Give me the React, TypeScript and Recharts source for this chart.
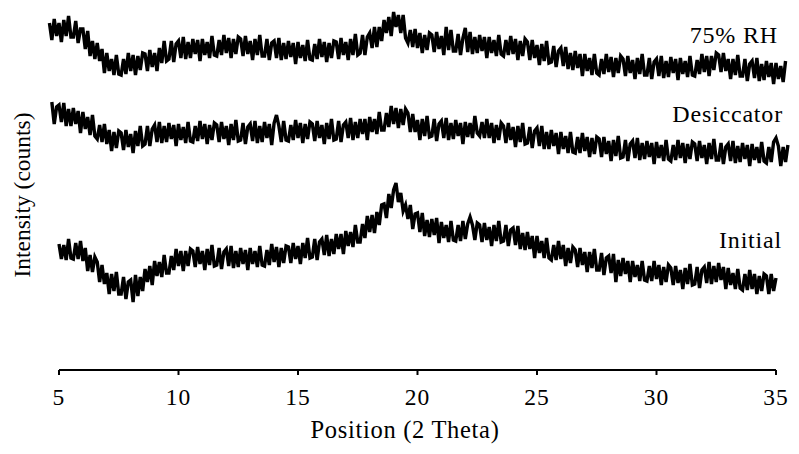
import { LineChart, Line, XAxis, YAxis, ReferenceLine, ReferenceDot } from "recharts"

// scan grid (2 Theta), one point every 0.1 degree from 4.6
const THETA_START = 4.6
const THETA_STEP = 0.1

// intensity, 10 points per row (one degree)
const rh75: (number | null)[] = [
  347, 330, 351, 334, 347, 328, 350, 334, 354, 333,
  333, 349, 327, 341, 341, 321, 339, 314, 329, 311,
  327, 309, 321, 297, 317, 299, 311, 295, 315, 296,
  295, 311, 296, 317, 299, 315, 295, 314, 300, 317,
  316, 299, 320, 303, 317, 299, 322, 307, 329, 309,
  311, 329, 308, 326, 329, 312, 333, 311, 328, 312,
  331, 316, 330, 309, 331, 315, 328, 312, 334, 315,
  314, 330, 315, 335, 317, 332, 312, 331, 316, 333,
  331, 314, 334, 316, 329, 310, 331, 315, 335, 314,
  314, 331, 310, 327, 329, 312, 332, 310, 327, 311,
  329, 313, 327, 306, 328, 312, 325, 309, 330, 311,
  310, 326, 311, 331, 313, 328, 308, 327, 312, 329,
  328, 311, 332, 315, 328, 310, 331, 315, 336, 315,
  317, 335, 315, 333, 337, 322, 343, 323, 343, 329,
  350, 337, 353, 334, 358, 343, 355, 337, 355, 332,
  327, 340, 323, 341, 322, 337, 317, 335, 320, 337,
  335, 318, 338, 321, 334, 315, 343, 320, 340, 319,
  319, 336, 315, 332, 342, 318, 338, 316, 333, 317,
  335, 319, 333, 312, 333, 317, 330, 314, 335, 316,
  314, 330, 315, 334, 316, 331, 310, 329, 314, 331,
  328, 310, 330, 312, 325, 305, 326, 309, 329, 307,
  308, 324, 303, 319, 322, 304, 323, 301, 317, 300,
  319, 302, 316, 294, 316, 299, 312, 295, 316, 297,
  295, 311, 296, 316, 298, 313, 293, 312, 297, 314,
  311, 294, 314, 297, 310, 291, 312, 296, 316, 295,
  295, 312, 291, 308, 311, 294, 314, 292, 309, 293,
  313, 297, 311, 290, 312, 296, 309, 293, 314, 295,
  294, 310, 296, 316, 298, 314, 294, 314, 300, 317,
  315, 298, 317, 299, 311, 291, 311, 295, 315, 294,
  294, 311, 289, 306, 309, 292, 312, 289, 306, 290,
  309, 293, 307, 286, 307, 291, 304, 288, 309, null,
]

const desiccator: (number | null)[] = [
  null, 268, 246, 263, 265, 248, 267, 244, 261, 244,
  262, 246, 259, 237, 258, 241, 253, 235, 255, 234,
  231, 245, 228, 246, 226, 240, 219, 238, 222, 239,
  237, 220, 240, 223, 236, 217, 239, 224, 244, 224,
  226, 244, 224, 241, 245, 228, 248, 227, 244, 228,
  247, 231, 245, 224, 246, 230, 243, 227, 248, 229,
  228, 244, 229, 249, 231, 246, 226, 245, 230, 247,
  245, 228, 248, 231, 244, 225, 246, 230, 250, 229,
  230, 247, 226, 243, 246, 229, 249, 227, 244, 228,
  248, 232, 246, 225, 247, 255, 244, 228, 249, 230,
  229, 245, 230, 250, 232, 247, 227, 246, 231, 248,
  246, 229, 249, 232, 245, 226, 247, 231, 251, 230,
  231, 249, 228, 245, 248, 232, 252, 230, 248, 232,
  251, 236, 251, 230, 253, 238, 251, 236, 258, 240,
  240, 257, 243, 264, 246, 262, 242, 261, 245, 261,
  257, 238, 256, 238, 250, 230, 251, 234, 254, 233,
  234, 251, 229, 246, 249, 232, 252, 230, 247, 231,
  250, 234, 247, 226, 248, 233, 247, 232, 254, 237,
  234, 248, 232, 251, 232, 247, 227, 245, 230, 247,
  244, 227, 247, 230, 243, 223, 244, 228, 247, 226,
  227, 243, 222, 239, 242, 224, 244, 221, 238, 221,
  240, 224, 237, 216, 238, 221, 234, 217, 238, 218,
  217, 233, 217, 237, 219, 233, 213, 232, 216, 233,
  231, 213, 233, 216, 229, 209, 230, 214, 234, 212,
  213, 230, 209, 226, 229, 212, 232, 210, 227, 211,
  229, 213, 227, 206, 228, 212, 225, 209, 230, 211,
  209, 225, 210, 230, 212, 227, 207, 226, 211, 228,
  226, 209, 229, 212, 225, 206, 227, 211, 231, 210,
  210, 227, 206, 223, 226, 209, 229, 207, 224, 208,
  227, 211, 225, 204, 226, 210, 223, 207, 228, 209,
  207, 223, 208, 228, 232, 224, 204, 223, 208, 225,
]

const initial: (number | null)[] = [
  null, null, null, null, 126, 111, 125, 110, 131, 112,
  111, 127, 111, 129, 109, 122, 99, 115, 98, 113,
  108, 88, 105, 86, 97, 76, 96, 79, 98, 76,
  76, 93, 71, 88, 90, 68, 95, 74, 93, 79,
  101, 88, 104, 85, 109, 94, 108, 93, 115, 97,
  97, 114, 100, 121, 104, 119, 99, 119, 104, 121,
  119, 103, 123, 106, 119, 100, 121, 105, 125, 104,
  105, 122, 101, 118, 121, 104, 124, 102, 119, 103,
  122, 106, 120, 100, 122, 106, 119, 103, 124, 105,
  104, 120, 105, 126, 108, 123, 103, 122, 107, 124,
  123, 107, 127, 111, 124, 106, 127, 112, 132, 112,
  113, 131, 110, 128, 131, 115, 135, 114, 131, 116,
  136, 121, 136, 116, 139, 124, 138, 123, 145, 128,
  128, 146, 132, 154, 138, 155, 137, 158, 145, 165,
  166, 152, 176, 162, 180, 187, 168, 177, 159, 165,
  151, 165, 141, 156, 157, 138, 157, 134, 150, 133,
  151, 135, 152, 127, 148, 132, 145, 128, 149, 130,
  129, 145, 129, 149, 131, 146, 153, 145, 130, 147,
  145, 128, 147, 130, 143, 124, 145, 129, 149, 128,
  129, 145, 124, 140, 142, 125, 144, 121, 137, 120,
  138, 121, 134, 112, 134, 117, 129, 112, 132, 112,
  110, 125, 110, 129, 111, 125, 104, 122, 107, 123,
  120, 103, 122, 105, 118, 98, 118, 102, 121, 100,
  100, 117, 95, 112, 114, 97, 116, 88, 110, 94,
  112, 96, 109, 88, 109, 93, 105, 89, 109, 90,
  89, 104, 89, 109, 91, 105, 85, 103, 88, 105,
  102, 85, 104, 87, 100, 81, 102, 86, 106, 85,
  86, 103, 82, 100, 103, 87, 108, 86, 104, 88,
  107, 90, 103, 81, 102, 85, 97, 81, 101, 82,
  80, 96, 80, 100, 81, 96, 76, 94, 79, 96,
  94, 76, 96, 79, 92, null, null, null, null, null,
]

const xTicks = [5, 10, 15, 20, 25, 30, 35]

// where the series names sit (theta, intensity at the text baseline)
const seriesLabels = [
  { text: "75% RH", x: 35.08, y: 327 },
  { text: "Desiccator", x: 35.29, y: 248.5 },
  { text: "Initial", x: 35.25, y: 122 },
]

const data = rh75.map((v, i) => ({
  theta: +(THETA_START + i * THETA_STEP).toFixed(1),
  rh75: v,
  desiccator: desiccator[i],
  initial: initial[i],
}))

const FONT = "'Liberation Serif', 'Times New Roman', serif"

const labelAt = (text: string) => (props: any) => {
  const { x, y } = props.viewBox
  return (
    <text x={x} y={y} textAnchor="end" fill="#000" fontSize={24} letterSpacing={0.8} fontFamily={FONT}>
      {text}
    </text>
  )
}

export default function App() {
  return (
    <div style={{ position: "absolute", left: 0, top: 0, background: "#fff" }}>
      <LineChart width={799} height={454} data={data} margin={{ top: 0, right: 9.86, bottom: 0, left: 0 }}>
        <XAxis
          dataKey="theta"
          type="number"
          domain={[4.55, 35.55]}
          ticks={xTicks}
          interval={0}
          height={84}
          axisLine={false}
          tickSize={5}
          tickMargin={13}
          tickLine={{ stroke: "#000", strokeWidth: 2 }}
          tick={{ fill: "#000", fontSize: 23.5, fontFamily: FONT, letterSpacing: 1 }}
          label={{
            content: () => (
              <text x={405} y={438} textAnchor="middle" fill="#000" fontSize={24.5} letterSpacing={0.7} fontFamily={FONT}>
                Position (2 Theta)
              </text>
            ),
          }}
        />
        <YAxis
          type="number"
          domain={[0, 370]}
          width={48.245}
          axisLine={false}
          tickLine={false}
          tick={false}
          label={{
            content: () => (
              <text
                x={30}
                y={195}
                transform="rotate(-90, 30, 195)"
                textAnchor="middle"
                fill="#000"
                fontSize={23.5}
                fontFamily={FONT}
              >
                Intensity (counts)
              </text>
            ),
          }}
        />
        <ReferenceLine
          segment={[
            { x: xTicks[0], y: 0 },
            { x: xTicks[xTicks.length - 1], y: 0 },
          ]}
          stroke="#000"
          strokeWidth={2}
        />
        <Line dataKey="rh75" stroke="#000" strokeWidth={3.4} dot={false} isAnimationActive={false} />
        <Line dataKey="desiccator" stroke="#000" strokeWidth={3.4} dot={false} isAnimationActive={false} />
        <Line dataKey="initial" stroke="#000" strokeWidth={3.4} dot={false} isAnimationActive={false} />
        {seriesLabels.map((l) => (
          <ReferenceDot key={l.text} x={l.x} y={l.y} r={0} stroke="none" label={{ content: labelAt(l.text) }} />
        ))}
      </LineChart>
    </div>
  )
}
